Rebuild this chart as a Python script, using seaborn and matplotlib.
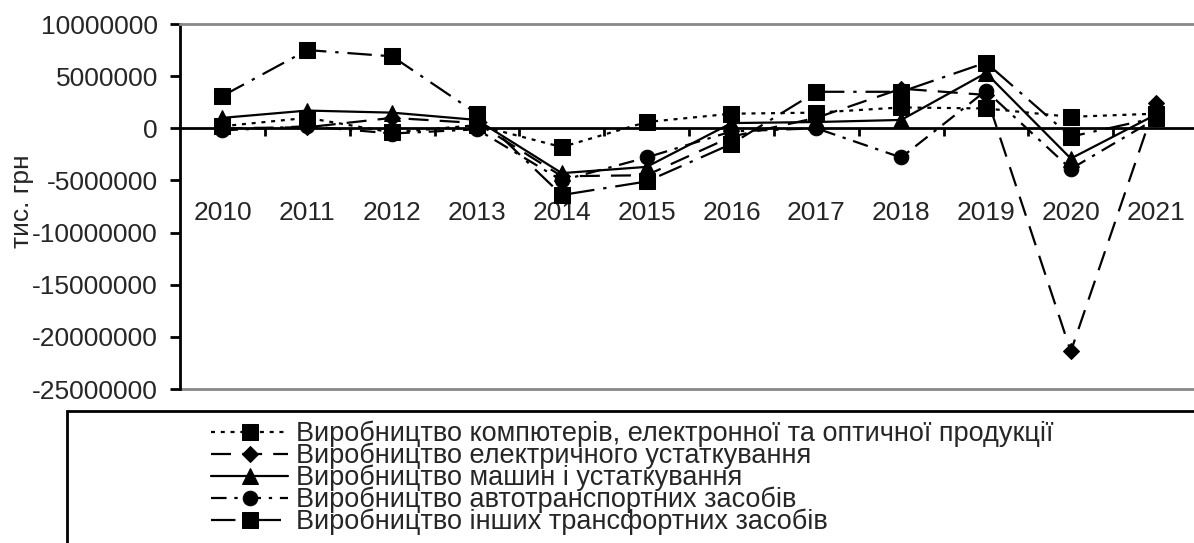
import matplotlib
matplotlib.use('Agg')
import matplotlib.pyplot as plt
import seaborn as sns
import pandas as pd
from matplotlib.patches import Rectangle

years = [2010, 2011, 2012, 2013, 2014, 2015, 2016, 2017, 2018, 2019, 2020, 2021]
computers = [200000, 1000000, -400000, 300000, -1800000, 600000, 1400000, 1500000, 2000000, 1900000, 1100000, 1400000]
electric = [0, 100000, 1000000, 500000, -4600000, -4500000, -800000, 1000000, 3800000, 3200000, -21400000, 2400000]
machines = [1000000, 1700000, 1500000, 800000, -4300000, -3700000, 500000, 600000, 800000, 5300000, -2900000, 1300000]
auto = [-200000, 200000, -500000, -100000, -5000000, -2800000, -300000, 0, -2800000, 3600000, -3900000, 900000]
other = [3100000, 7500000, 6900000, 1400000, -6400000, -5100000, -1500000, 3500000, 3500000, 6300000, -800000, 1000000]

names = ['Виробництво компютерів, електронної та оптичної продукції',
         'Виробництво електричного устаткування',
         'Виробництво машин і устаткування',
         'Виробництво автотранспортних засобів',
         'Виробництво інших трансфортних засобів']
yticks = [10000000, 5000000, 0, -5000000, -10000000, -15000000, -20000000, -25000000]

rows = []
for name, vals in zip(names, [computers, electric, machines, auto, other]):
    for y, v in zip(years, vals):
        rows.append({'year': y, 'value': v, 'series': name})
df = pd.DataFrame(rows)

sns.set_style('white')
plt.rcParams['font.family'] = ['Liberation Sans', 'DejaVu Sans']

fig = plt.figure(figsize=(11.94, 5.43), dpi=100)
ax = fig.add_axes([0.1508, 0.2836, 0.8526, 0.6722])

markers = dict(zip(names, ['s', 'D', '^', 'o', 's']))
dashes = dict(zip(names, [(1.8, 2.6), (9, 5), '', (7, 3.5, 1.5, 3.5), (11, 4, 1.5, 4)]))
sizes = {'s': 11, 'D': 8.5, '^': 11, 'o': 10.5}

sns.lineplot(data=df, x='year', y='value', style='series', style_order=names,
             markers=markers, dashes=dashes, color='black', lw=1.6,
             markersize=10.5, markeredgecolor='black', legend=False, ax=ax)
lines = list(ax.lines[:5])
for ln in lines:
    ln.set_markersize(sizes[ln.get_marker()])

# x axis crosses at zero, plot frame in grey
ax.spines['bottom'].set_position(('data', 0))
ax.spines['bottom'].set_color('black')
ax.spines['bottom'].set_linewidth(2)
ax.spines['left'].set_color('black')
ax.spines['left'].set_linewidth(2)
ax.spines['top'].set_color('#888888')
ax.spines['top'].set_linewidth(2)
ax.spines['right'].set_visible(False)

ax.set_xlim(2009.5, 2021.5)
ax.set_ylim(-25000000, 10000000)
ax.set_yticks(yticks)
ax.set_yticklabels([str(t) for t in yticks])
ax.set_xticks(years)
ax.set_xticklabels([str(y) for y in years])
ax.set_xticks([y + 0.5 for y in years[:-1]], minor=True)
ax.axhline(-25000000, color='#888888', lw=2, clip_on=False)

ax.tick_params(axis='y', direction='out', length=7, width=2, pad=9, color='black',
               left=True, labelsize=19)
ax.tick_params(axis='x', which='major', length=0, pad=52, labelsize=19)
ax.tick_params(axis='x', which='minor', direction='out', length=6, width=2, color='black', bottom=True)

ax.set_xlabel('')
ax.set_ylabel('тис. грн', fontsize=19)
ax.yaxis.set_label_coords(-0.143, 0.515)

fig.add_artist(Rectangle((67 / 1194, -0.1), 1.0, 0.1 + 1 - 411 / 543,
                         transform=fig.transFigure, fill=False, lw=2, edgecolor='black'))
fig.legend(lines, names, loc='upper left', bbox_to_anchor=(211 / 1194, 1 - 421 / 543),
           frameon=False, fontsize=19.5, handlelength=2.85, handletextpad=0.3,
           labelspacing=-0.165, borderpad=0, borderaxespad=0)

fig.savefig('out.png', dpi=100)
